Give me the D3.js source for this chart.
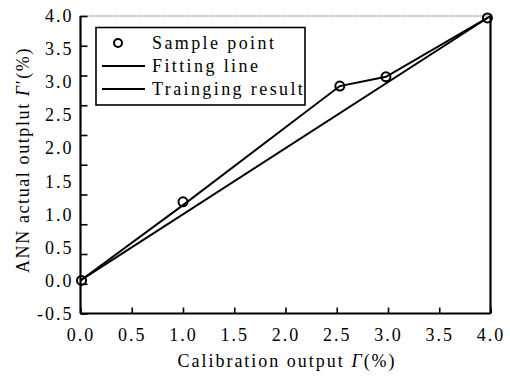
<!DOCTYPE html>
<html>
<head>
<meta charset="utf-8">
<script src="https://cdn.jsdelivr.net/npm/d3@7"></script>
<style>
  body { margin: 0; background: #fff; }
  text { font-family: "Liberation Serif", "DejaVu Serif", serif; fill: #000; }
</style>
</head>
<body>
<svg id="chart" width="510" height="378"></svg>
<script>
// sample points
var sampleX = [0.01, 1.0, 2.53, 2.98, 3.97];
var sampleY = [0.0, 1.19, 2.94, 3.08, 3.97];
// training result polyline
var trainX = [0.0, 1.0, 2.53, 2.98, 3.97];
var trainY = [0.0, 1.14, 2.94, 3.08, 3.97];
// fitting line y = x
var fitX = [0.0, 4.0];
var fitY = [0.0, 4.0];

var xTicks = [0, 0.5, 1, 1.5, 2, 2.5, 3, 3.5, 4];
var yLabels = [-0.5, 0, 0.5, 1, 1.5, 2, 2.5, 3, 3.5, 4];
var legendNames = ["Sample point", "Fitting line", "Trainging result"];

(function () {
   "use strict";

   var svg = d3.select("#chart"),
      mLeft = 80.5, mRight = 490.5, mTop = 16, mBottom = 313.5;

   function fmt(d) {
      return d.toFixed(1);
   }

   var x = d3.scaleLinear().domain([0, 4]).range([mLeft, mRight]);
   var y = d3.scaleLinear().domain([-0.5, 4]).range([mBottom, mTop]);
   // tick marks on the y axis do not line up with the labels in the original
   var yTickMarks = d3.range(11).map(function (i) { return -0.5 + 0.45 * i; });

   //frame: thin dotted top edge
   svg.append("line")
      .attr("x1", mLeft).attr("x2", mRight).attr("y1", mTop).attr("y2", mTop)
      .attr("stroke", "#777").attr("stroke-width", 1).attr("stroke-dasharray", "2,1");
   svg.append("line")
      .attr("x1", mRight).attr("x2", mRight).attr("y1", mTop).attr("y2", mBottom)
      .attr("stroke", "#000").attr("stroke-width", 2.2);

   //x axis
   var xAxis = svg.append("g")
      .attr("transform", "translate(0," + mBottom + ")")
      .call(d3.axisBottom(x).tickValues(xTicks).tickSize(-6).tickPadding(14)
         .tickFormat(fmt));
   xAxis.attr("font-family", null);
   xAxis.select(".domain").attr("stroke-width", 2.2).attr("d", "M" + mLeft + ",0H" + mRight);
   xAxis.selectAll(".tick line").attr("stroke-width", 1.6);
   xAxis.selectAll(".tick text")
      .attr("font-size", 18).attr("letter-spacing", 2).attr("dy", "0.75em");

   //y axis: marks
   var yAxis = svg.append("g")
      .attr("transform", "translate(" + mLeft + ",0)")
      .call(d3.axisLeft(y).tickValues(yTickMarks).tickSize(-7).tickFormat(""));
   yAxis.select(".domain").attr("stroke-width", 2.2).attr("d", "M0," + mTop + "V" + mBottom);
   yAxis.selectAll(".tick line").attr("stroke-width", 1.6);

   //y axis: labels
   var yLab = svg.append("g")
      .attr("transform", "translate(" + mLeft + ",0)")
      .call(d3.axisLeft(y).tickValues(yLabels).tickSize(0).tickPadding(7)
         .tickFormat(fmt));
   yLab.attr("font-family", null);
   yLab.select(".domain").remove();
   yLab.selectAll(".tick text").attr("font-size", 18).attr("letter-spacing", 2);

   //lines
   var line = d3.line()
      .x(function (d) { return x(d[0]); })
      .y(function (d) { return y(d[1]); });

   svg.append("path")
      .datum(d3.zip(fitX, fitY))
      .attr("d", line)
      .attr("fill", "none").attr("stroke", "#000").attr("stroke-width", 2);

   svg.append("path")
      .datum(d3.zip(trainX, trainY))
      .attr("d", line)
      .attr("fill", "none").attr("stroke", "#000").attr("stroke-width", 2);

   svg.selectAll("circle.pt")
      .data(d3.zip(sampleX, sampleY))
      .enter().append("circle")
      .attr("class", "pt")
      .attr("cx", function (d) { return x(d[0]); })
      .attr("cy", function (d) { return y(d[1]); })
      .attr("r", 4.5)
      .attr("fill", "none").attr("stroke", "#000").attr("stroke-width", 2);

   //legend
   var leg = svg.append("g");
   leg.append("rect")
      .attr("x", 96).attr("y", 27.5).attr("width", 209).attr("height", 77.5)
      .attr("fill", "#fff").attr("stroke", "#000").attr("stroke-width", 1.6);

   var rows = leg.selectAll("g.row")
      .data(legendNames)
      .enter().append("g")
      .attr("class", "row")
      .attr("transform", function (d, i) { return "translate(0," + (43 + i * 23) + ")"; });

   rows.append("text")
      .attr("x", 152).attr("y", 6)
      .attr("font-size", 18).attr("letter-spacing", 2.4)
      .text(function (d) { return d; });

   rows.filter(function (d, i) { return i === 0; })
      .append("circle")
      .attr("cx", 118).attr("cy", 0).attr("r", 4)
      .attr("fill", "none").attr("stroke", "#000").attr("stroke-width", 2);

   rows.filter(function (d, i) { return i > 0; })
      .append("line")
      .attr("x1", 102).attr("x2", 145).attr("y1", 0).attr("y2", 0)
      .attr("stroke", "#000").attr("stroke-width", 2);

   //axis titles
   var xt = svg.append("text")
      .attr("x", 287).attr("y", 367)
      .attr("text-anchor", "middle").attr("font-size", 18).attr("letter-spacing", 2);
   xt.append("tspan").text("Calibration output ");
   xt.append("tspan").attr("font-style", "italic").text("Γ");
   xt.append("tspan").text("(%)");

   var yt = svg.append("text")
      .attr("transform", "translate(29,160) rotate(-90)")
      .attr("text-anchor", "middle").attr("font-size", 18).attr("letter-spacing", 1.6);
   yt.append("tspan").text("ANN actual outplut ");
   yt.append("tspan").attr("font-style", "italic").text("Γ");
   yt.append("tspan").text("′(%)");
}());
</script>
</body>
</html>
